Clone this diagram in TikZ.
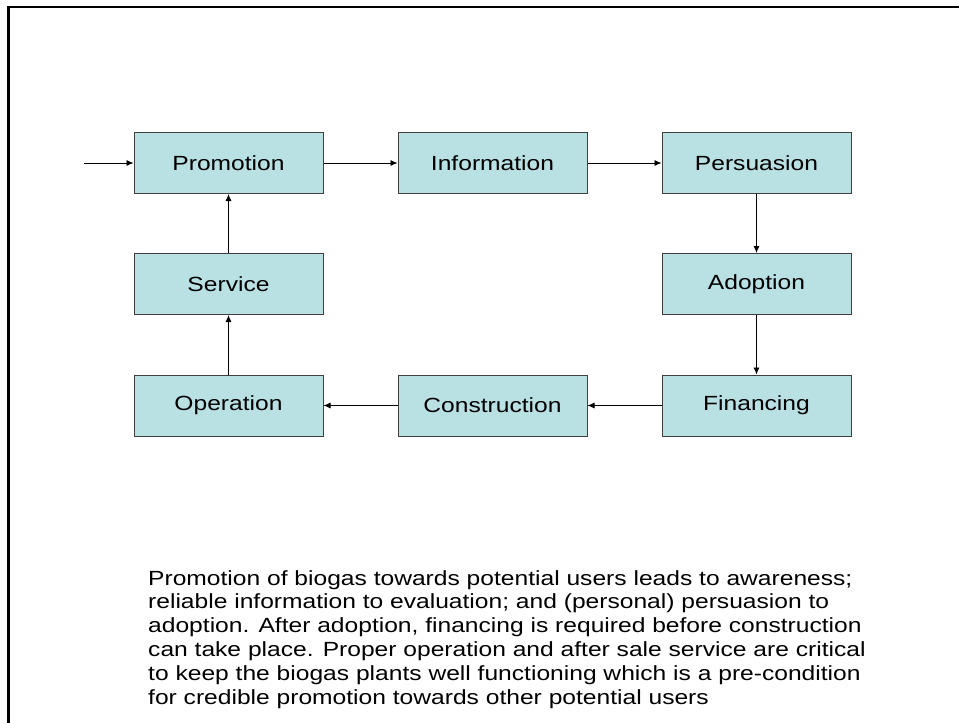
\documentclass[tikz,border=0pt]{standalone}
\usepackage{fontspec}
\setmainfont{Liberation Sans}[FakeStretch=1.2]
\usetikzlibrary{arrows.meta}
\definecolor{boxfill}{RGB}{185,224,227}
\definecolor{boxline}{RGB}{64,64,64}
\begin{document}
\begin{tikzpicture}[x=1pt,y=-1pt,
        stage/.style={draw=boxline,fill=boxfill,line width=1pt,minimum width=189pt,minimum height=61pt,inner sep=0pt,font=\fontsize{20.5}{23.6}\selectfont},
        flow/.style={line width=0.8pt,-{Latex[length=7pt,width=6pt]}}]
        \useasboundingbox (0,0) rectangle (959,723);
        \draw[line width=2.6pt] (8.5,723)--(8.5,7)--(959,7);
        \node[stage] (promotion) at (228.5,163) {Promotion};
        \node[stage] (information) at (492.5,163) {Information};
        \node[stage] (persuasion) at (756.5,163) {Persuasion};
        \node[stage] (service) at (228.5,284) {Service};
        \node[stage] (adoption) at (756.5,284) {Adoption};
        \node[stage] (operation) at (228.5,405.5) {Operation};
        \node[stage] (construction) at (492.5,405.5) {Construction};
        \node[stage] (financing) at (756.5,405.5) {Financing};
        \coordinate (start) at (84,163);
        \draw[flow] (start)--(promotion);
        \draw[flow] (promotion)--(information);
        \draw[flow] (information)--(persuasion);
        \draw[flow] (persuasion)--(adoption);
        \draw[flow] (adoption)--(financing);
        \draw[flow] (financing)--(construction);
        \draw[flow] (construction)--(operation);
        \draw[flow] (operation)--(service);
        \draw[flow] (service)--(promotion);
        \node[anchor=north west,inner sep=0pt,align=left,font=\fontsize{20.5}{23.8}\selectfont] (caption) at (148,570)
        {Promotion of biogas towards potential users leads to awareness;\\
        reliable information to evaluation; and (personal) persuasion to\\
        adoption. After adoption, financing is required before construction\\
        can take place. Proper operation and after sale service are critical\\
        to keep the biogas plants well functioning which is a pre-condition\\
        for credible promotion towards other potential users};
        \end{tikzpicture}
\end{document}
